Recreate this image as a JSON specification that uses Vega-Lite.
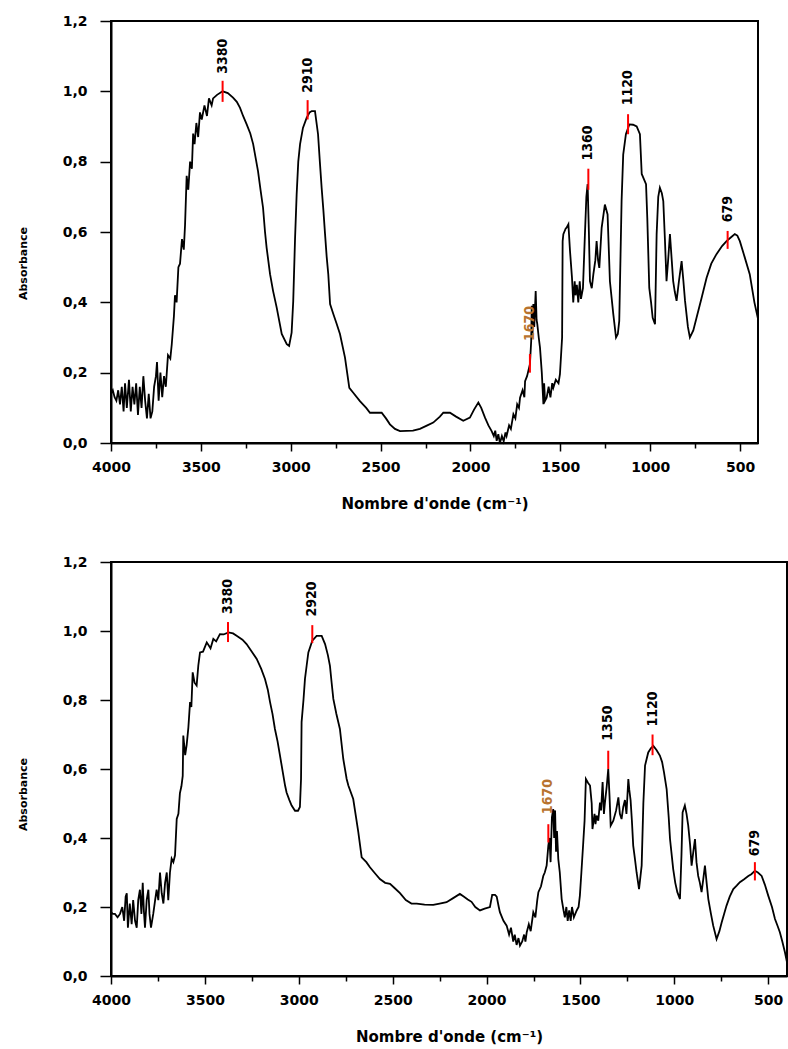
{
"$schema": "https://vega.github.io/schema/vega-lite/v6.json",
"padding": {"left": 16, "top": 13, "right": 0, "bottom": 0},
"background": "white",
"spacing": 42,
"config": {
  "view": {"stroke": "#000", "strokeWidth": 2},
  "axis": {"domainColor": "#000", "domainWidth": 2, "tickColor": "#000", "tickWidth": 1.5, "grid": false,
    "labelFont": "DejaVu Sans", "labelFontWeight": "bold", "labelFontSize": 14, "labelColor": "#000",
    "titleFont": "DejaVu Sans", "titleFontWeight": "bold", "titleColor": "#000",
    "labelOverlap": false, "labelFlush": false, "labelBound": false}
},
"datasets": {
  "specA": [
{"w":4000,"a":0.14},{"w":3990,"a":0.15},{"w":3980,"a":0.13},{"w":3970,"a":0.12},{"w":3960,"a":0.15},{"w":3950,"a":0.11},{"w":3940,"a":0.16},{"w":3930,"a":0.09},{"w":3922,"a":0.17},{"w":3912,"a":0.10},{"w":3900,"a":0.18},{"w":3890,"a":0.09},{"w":3880,"a":0.16},{"w":3870,"a":0.11},{"w":3860,"a":0.17},{"w":3850,"a":0.08},{"w":3840,"a":0.16},{"w":3830,"a":0.10},{"w":3820,"a":0.19},{"w":3810,"a":0.12},{"w":3800,"a":0.07},{"w":3790,"a":0.14},{"w":3780,"a":0.07},{"w":3770,"a":0.09},{"w":3760,"a":0.16},{"w":3750,"a":0.19},{"w":3744,"a":0.23},{"w":3735,"a":0.12},{"w":3725,"a":0.20},{"w":3715,"a":0.13},{"w":3705,"a":0.19},{"w":3695,"a":0.16},{"w":3683,"a":0.25},{"w":3670,"a":0.24},{"w":3662,"a":0.28},{"w":3650,"a":0.36},{"w":3644,"a":0.42},{"w":3635,"a":0.40},{"w":3625,"a":0.50},{"w":3616,"a":0.51},{"w":3605,"a":0.58},{"w":3595,"a":0.55},{"w":3588,"a":0.62},{"w":3579,"a":0.76},{"w":3570,"a":0.72},{"w":3560,"a":0.80},{"w":3550,"a":0.78},{"w":3543,"a":0.88},{"w":3535,"a":0.85},{"w":3525,"a":0.91},{"w":3515,"a":0.87},{"w":3505,"a":0.94},{"w":3495,"a":0.92},{"w":3480,"a":0.96},{"w":3466,"a":0.93},{"w":3455,"a":0.98},{"w":3440,"a":0.96},{"w":3432,"a":0.98},{"w":3410,"a":0.99},{"w":3379,"a":1.0},{"w":3350,"a":0.995},{"w":3321,"a":0.982},{"w":3300,"a":0.97},{"w":3282,"a":0.953},{"w":3265,"a":0.93},{"w":3245,"a":0.906},{"w":3225,"a":0.88},{"w":3209,"a":0.85},{"w":3195,"a":0.81},{"w":3182,"a":0.773},{"w":3168,"a":0.72},{"w":3154,"a":0.669},{"w":3143,"a":0.6},{"w":3134,"a":0.555},{"w":3115,"a":0.48},{"w":3098,"a":0.432},{"w":3078,"a":0.385},{"w":3050,"a":0.31},{"w":3022,"a":0.281},{"w":3009,"a":0.276},{"w":2995,"a":0.314},{"w":2986,"a":0.404},{"w":2976,"a":0.58},{"w":2967,"a":0.707},{"w":2958,"a":0.80},{"w":2948,"a":0.85},{"w":2932,"a":0.896},{"w":2911,"a":0.925},{"w":2895,"a":0.94},{"w":2883,"a":0.944},{"w":2865,"a":0.944},{"w":2848,"a":0.878},{"w":2838,"a":0.80},{"w":2828,"a":0.726},{"w":2818,"a":0.66},{"w":2809,"a":0.594},{"w":2800,"a":0.53},{"w":2791,"a":0.48},{"w":2781,"a":0.395},{"w":2763,"a":0.367},{"w":2745,"a":0.34},{"w":2726,"a":0.31},{"w":2698,"a":0.243},{"w":2674,"a":0.157},{"w":2652,"a":0.143},{"w":2615,"a":0.119},{"w":2580,"a":0.10},{"w":2559,"a":0.086},{"w":2494,"a":0.086},{"w":2470,"a":0.07},{"w":2448,"a":0.053},{"w":2420,"a":0.04},{"w":2392,"a":0.034},{"w":2320,"a":0.035},{"w":2281,"a":0.04},{"w":2240,"a":0.05},{"w":2207,"a":0.058},{"w":2170,"a":0.075},{"w":2151,"a":0.086},{"w":2114,"a":0.086},{"w":2080,"a":0.075},{"w":2040,"a":0.063},{"w":2003,"a":0.072},{"w":1980,"a":0.095},{"w":1956,"a":0.115},{"w":1940,"a":0.10},{"w":1919,"a":0.072},{"w":1900,"a":0.05},{"w":1882,"a":0.034},{"w":1870,"a":0.02},{"w":1862,"a":0.035},{"w":1854,"a":0.006},{"w":1845,"a":0.025},{"w":1836,"a":0.0},{"w":1825,"a":0.02},{"w":1815,"a":0.005},{"w":1805,"a":0.03},{"w":1799,"a":0.02},{"w":1785,"a":0.05},{"w":1775,"a":0.04},{"w":1761,"a":0.082},{"w":1750,"a":0.07},{"w":1740,"a":0.11},{"w":1730,"a":0.10},{"w":1724,"a":0.129},{"w":1710,"a":0.15},{"w":1700,"a":0.13},{"w":1696,"a":0.176},{"w":1685,"a":0.19},{"w":1669,"a":0.224},{"w":1662,"a":0.29},{"w":1659,"a":0.39},{"w":1655,"a":0.30},{"w":1650,"a":0.395},{"w":1645,"a":0.33},{"w":1637,"a":0.432},{"w":1632,"a":0.35},{"w":1628,"a":0.338},{"w":1620,"a":0.30},{"w":1613,"a":0.271},{"w":1603,"a":0.20},{"w":1594,"a":0.11},{"w":1590,"a":0.17},{"w":1585,"a":0.12},{"w":1576,"a":0.129},{"w":1565,"a":0.16},{"w":1555,"a":0.13},{"w":1545,"a":0.17},{"w":1539,"a":0.157},{"w":1525,"a":0.18},{"w":1510,"a":0.17},{"w":1502,"a":0.196},{"w":1490,"a":0.30},{"w":1487,"a":0.574},{"w":1483,"a":0.594},{"w":1470,"a":0.61},{"w":1465,"a":0.612},{"w":1455,"a":0.622},{"w":1446,"a":0.546},{"w":1435,"a":0.47},{"w":1428,"a":0.40},{"w":1420,"a":0.46},{"w":1415,"a":0.42},{"w":1408,"a":0.45},{"w":1400,"a":0.40},{"w":1392,"a":0.46},{"w":1385,"a":0.41},{"w":1374,"a":0.44},{"w":1363,"a":0.594},{"w":1355,"a":0.70},{"w":1348,"a":0.736},{"w":1341,"a":0.60},{"w":1335,"a":0.46},{"w":1325,"a":0.44},{"w":1316,"a":0.48},{"w":1305,"a":0.52},{"w":1298,"a":0.574},{"w":1290,"a":0.52},{"w":1283,"a":0.498},{"w":1270,"a":0.612},{"w":1252,"a":0.678},{"w":1237,"a":0.65},{"w":1224,"a":0.46},{"w":1205,"a":0.366},{"w":1190,"a":0.30},{"w":1180,"a":0.31},{"w":1172,"a":0.347},{"w":1159,"a":0.688},{"w":1150,"a":0.82},{"w":1135,"a":0.878},{"w":1116,"a":0.906},{"w":1095,"a":0.905},{"w":1075,"a":0.90},{"w":1057,"a":0.878},{"w":1047,"a":0.765},{"w":1023,"a":0.736},{"w":1016,"a":0.64},{"w":1005,"a":0.441},{"w":995,"a":0.40},{"w":986,"a":0.356},{"w":973,"a":0.338},{"w":964,"a":0.594},{"w":955,"a":0.70},{"w":946,"a":0.726},{"w":935,"a":0.71},{"w":927,"a":0.688},{"w":918,"a":0.58},{"w":909,"a":0.46},{"w":900,"a":0.52},{"w":890,"a":0.594},{"w":880,"a":0.52},{"w":872,"a":0.46},{"w":863,"a":0.43},{"w":853,"a":0.404},{"w":840,"a":0.46},{"w":825,"a":0.517},{"w":815,"a":0.46},{"w":806,"a":0.404},{"w":790,"a":0.33},{"w":779,"a":0.30},{"w":760,"a":0.32},{"w":742,"a":0.356},{"w":715,"a":0.41},{"w":686,"a":0.47},{"w":660,"a":0.51},{"w":631,"a":0.537},{"w":600,"a":0.56},{"w":575,"a":0.574},{"w":550,"a":0.585},{"w":529,"a":0.594},{"w":515,"a":0.59},{"w":501,"a":0.574},{"w":475,"a":0.53},{"w":446,"a":0.48},{"w":420,"a":0.40},{"w":400,"a":0.353}
  ],
  "peaksA": [
    {"w":3379,"y0":0.97,"y1":1.03,"ly":1.10,"label":"3380"},
    {"w":2906,"y0":0.92,"y1":0.975,"ly":1.046,"label":"2910"},
    {"w":1669,"y0":0.20,"y1":0.253,"ly":0.34,"label":"1670"},
    {"w":1344,"y0":0.72,"y1":0.78,"ly":0.853,"label":"1360"},
    {"w":1123,"y0":0.878,"y1":0.935,"ly":1.01,"label":"1120"},
    {"w":569,"y0":0.552,"y1":0.603,"ly":0.665,"label":"679"}
  ],
  "specB": [
{"w":4000,"a":0.185},{"w":3990,"a":0.18},{"w":3979,"a":0.18},{"w":3965,"a":0.17},{"w":3952,"a":0.18},{"w":3940,"a":0.20},{"w":3930,"a":0.16},{"w":3922,"a":0.23},{"w":3916,"a":0.24},{"w":3910,"a":0.14},{"w":3900,"a":0.21},{"w":3890,"a":0.15},{"w":3882,"a":0.22},{"w":3872,"a":0.16},{"w":3863,"a":0.14},{"w":3855,"a":0.22},{"w":3846,"a":0.25},{"w":3838,"a":0.18},{"w":3831,"a":0.27},{"w":3825,"a":0.19},{"w":3819,"a":0.14},{"w":3810,"a":0.22},{"w":3801,"a":0.25},{"w":3795,"a":0.18},{"w":3787,"a":0.14},{"w":3775,"a":0.18},{"w":3765,"a":0.22},{"w":3757,"a":0.25},{"w":3748,"a":0.22},{"w":3739,"a":0.30},{"w":3730,"a":0.24},{"w":3721,"a":0.21},{"w":3712,"a":0.27},{"w":3703,"a":0.30},{"w":3695,"a":0.22},{"w":3686,"a":0.30},{"w":3677,"a":0.34},{"w":3668,"a":0.33},{"w":3659,"a":0.35},{"w":3650,"a":0.455},{"w":3641,"a":0.47},{"w":3633,"a":0.53},{"w":3625,"a":0.55},{"w":3618,"a":0.58},{"w":3615,"a":0.697},{"w":3605,"a":0.64},{"w":3597,"a":0.67},{"w":3588,"a":0.72},{"w":3579,"a":0.794},{"w":3572,"a":0.78},{"w":3565,"a":0.88},{"w":3555,"a":0.85},{"w":3544,"a":0.842},{"w":3535,"a":0.90},{"w":3526,"a":0.938},{"w":3510,"a":0.94},{"w":3490,"a":0.967},{"w":3470,"a":0.95},{"w":3455,"a":0.977},{"w":3440,"a":0.97},{"w":3420,"a":0.991},{"w":3400,"a":0.99},{"w":3375,"a":0.996},{"w":3350,"a":0.993},{"w":3331,"a":0.986},{"w":3300,"a":0.975},{"w":3278,"a":0.962},{"w":3250,"a":0.94},{"w":3224,"a":0.919},{"w":3200,"a":0.89},{"w":3180,"a":0.861},{"w":3165,"a":0.83},{"w":3153,"a":0.794},{"w":3140,"a":0.76},{"w":3127,"a":0.716},{"w":3113,"a":0.68},{"w":3100,"a":0.639},{"w":3085,"a":0.59},{"w":3073,"a":0.552},{"w":3065,"a":0.532},{"w":3050,"a":0.51},{"w":3038,"a":0.494},{"w":3020,"a":0.479},{"w":3004,"a":0.479},{"w":2994,"a":0.49},{"w":2988,"a":0.571},{"w":2985,"a":0.736},{"w":2975,"a":0.80},{"w":2967,"a":0.861},{"w":2958,"a":0.90},{"w":2949,"a":0.938},{"w":2928,"a":0.972},{"w":2905,"a":0.986},{"w":2878,"a":0.986},{"w":2860,"a":0.962},{"w":2845,"a":0.93},{"w":2834,"a":0.899},{"w":2825,"a":0.85},{"w":2816,"a":0.803},{"w":2800,"a":0.76},{"w":2781,"a":0.716},{"w":2763,"a":0.629},{"w":2745,"a":0.571},{"w":2736,"a":0.552},{"w":2710,"a":0.513},{"w":2695,"a":0.46},{"w":2683,"a":0.417},{"w":2665,"a":0.344},{"w":2640,"a":0.33},{"w":2621,"a":0.315},{"w":2590,"a":0.295},{"w":2568,"a":0.281},{"w":2540,"a":0.27},{"w":2514,"a":0.267},{"w":2490,"a":0.255},{"w":2461,"a":0.24},{"w":2430,"a":0.22},{"w":2400,"a":0.21},{"w":2372,"a":0.21},{"w":2330,"a":0.207},{"w":2284,"a":0.206},{"w":2250,"a":0.21},{"w":2213,"a":0.214},{"w":2180,"a":0.225},{"w":2142,"a":0.238},{"w":2120,"a":0.23},{"w":2100,"a":0.222},{"w":2080,"a":0.215},{"w":2060,"a":0.20},{"w":2035,"a":0.19},{"w":2010,"a":0.195},{"w":1982,"a":0.20},{"w":1970,"a":0.235},{"w":1955,"a":0.235},{"w":1946,"a":0.23},{"w":1935,"a":0.20},{"w":1929,"a":0.185},{"w":1910,"a":0.16},{"w":1893,"a":0.146},{"w":1880,"a":0.12},{"w":1870,"a":0.14},{"w":1858,"a":0.10},{"w":1850,"a":0.12},{"w":1840,"a":0.09},{"w":1830,"a":0.11},{"w":1822,"a":0.088},{"w":1810,"a":0.10},{"w":1800,"a":0.12},{"w":1793,"a":0.10},{"w":1786,"a":0.127},{"w":1775,"a":0.15},{"w":1765,"a":0.13},{"w":1751,"a":0.185},{"w":1740,"a":0.17},{"w":1730,"a":0.22},{"w":1724,"a":0.243},{"w":1710,"a":0.26},{"w":1698,"a":0.29},{"w":1690,"a":0.30},{"w":1680,"a":0.32},{"w":1671,"a":0.378},{"w":1665,"a":0.40},{"w":1659,"a":0.33},{"w":1652,"a":0.46},{"w":1645,"a":0.484},{"w":1640,"a":0.40},{"w":1635,"a":0.48},{"w":1630,"a":0.36},{"w":1625,"a":0.42},{"w":1618,"a":0.339},{"w":1610,"a":0.30},{"w":1600,"a":0.223},{"w":1590,"a":0.19},{"w":1583,"a":0.17},{"w":1575,"a":0.20},{"w":1568,"a":0.16},{"w":1560,"a":0.19},{"w":1552,"a":0.16},{"w":1545,"a":0.20},{"w":1535,"a":0.17},{"w":1520,"a":0.19},{"w":1510,"a":0.20},{"w":1503,"a":0.233},{"w":1495,"a":0.30},{"w":1485,"a":0.387},{"w":1478,"a":0.45},{"w":1471,"a":0.571},{"w":1460,"a":0.56},{"w":1449,"a":0.552},{"w":1440,"a":0.50},{"w":1436,"a":0.426},{"w":1425,"a":0.47},{"w":1420,"a":0.44},{"w":1414,"a":0.465},{"w":1405,"a":0.45},{"w":1396,"a":0.503},{"w":1390,"a":0.48},{"w":1382,"a":0.562},{"w":1375,"a":0.47},{"w":1370,"a":0.50},{"w":1360,"a":0.55},{"w":1352,"a":0.60},{"w":1345,"a":0.52},{"w":1339,"a":0.436},{"w":1325,"a":0.45},{"w":1310,"a":0.48},{"w":1298,"a":0.518},{"w":1290,"a":0.47},{"w":1281,"a":0.455},{"w":1272,"a":0.49},{"w":1263,"a":0.51},{"w":1255,"a":0.47},{"w":1245,"a":0.571},{"w":1240,"a":0.54},{"w":1233,"a":0.51},{"w":1226,"a":0.45},{"w":1219,"a":0.378},{"w":1210,"a":0.34},{"w":1201,"a":0.30},{"w":1188,"a":0.252},{"w":1174,"a":0.32},{"w":1165,"a":0.50},{"w":1156,"a":0.61},{"w":1139,"a":0.648},{"w":1125,"a":0.66},{"w":1112,"a":0.667},{"w":1095,"a":0.655},{"w":1077,"a":0.639},{"w":1065,"a":0.62},{"w":1055,"a":0.59},{"w":1041,"a":0.542},{"w":1030,"a":0.46},{"w":1023,"a":0.397},{"w":1006,"a":0.31},{"w":995,"a":0.27},{"w":984,"a":0.243},{"w":970,"a":0.223},{"w":962,"a":0.35},{"w":956,"a":0.474},{"w":944,"a":0.494},{"w":935,"a":0.47},{"w":926,"a":0.436},{"w":916,"a":0.38},{"w":908,"a":0.32},{"w":899,"a":0.36},{"w":890,"a":0.397},{"w":882,"a":0.33},{"w":873,"a":0.29},{"w":864,"a":0.27},{"w":855,"a":0.243},{"w":846,"a":0.28},{"w":837,"a":0.32},{"w":828,"a":0.27},{"w":819,"a":0.223},{"w":805,"a":0.18},{"w":793,"a":0.146},{"w":775,"a":0.107},{"w":760,"a":0.13},{"w":748,"a":0.155},{"w":735,"a":0.18},{"w":722,"a":0.204},{"w":705,"a":0.23},{"w":686,"a":0.252},{"w":668,"a":0.262},{"w":651,"a":0.272},{"w":630,"a":0.28},{"w":606,"a":0.29},{"w":590,"a":0.295},{"w":571,"a":0.305},{"w":555,"a":0.30},{"w":535,"a":0.29},{"w":518,"a":0.265},{"w":500,"a":0.233},{"w":480,"a":0.20},{"w":464,"a":0.165},{"w":450,"a":0.145},{"w":438,"a":0.127},{"w":425,"a":0.10},{"w":411,"a":0.069},{"w":400,"a":0.04}
  ],
  "peaksB": [
    {"w":3377,"y0":0.968,"y1":1.026,"ly":1.10,"label":"3380"},
    {"w":2928,"y0":0.965,"y1":1.017,"ly":1.093,"label":"2920"},
    {"w":1671,"y0":0.387,"y1":0.44,"ly":0.52,"label":"1670"},
    {"w":1352,"y0":0.60,"y1":0.653,"ly":0.733,"label":"1350"},
    {"w":1116,"y0":0.64,"y1":0.70,"ly":0.774,"label":"1120"},
    {"w":571,"y0":0.277,"y1":0.33,"ly":0.385,"label":"679"}
  ]
},
"vconcat": [
  {
    "width": 647, "height": 422,
    "encoding": {
      "x": {"field": "w", "type": "quantitative", "scale": {"domain": [400, 4000], "reverse": true, "nice": false, "zero": false},
        "axis": {"title": "Nombre d'onde (cm⁻¹)", "titleFontSize": 15, "titlePadding": 22, "labelPadding": 9,
          "values": [4000,3750,3500,3250,3000,2750,2500,2250,2000,1750,1500,1250,1000,750,500],
          "labelExpr": "datum.value % 500 === 0 ? '' + datum.value : ''",
          "tickSize": {"condition": {"test": "datum.value % 500 === 0", "value": 8}, "value": 5}}}
    },
    "layer": [
      {"data": {"name": "specA"}, "mark": {"type": "line", "color": "#000", "strokeWidth": 1.8, "interpolate": "linear"},
        "encoding": {"y": {"field": "a", "type": "quantitative", "scale": {"domain": [0, 1.2], "nice": false},
          "axis": {"title": "Absorbance", "titleFontSize": 11, "titlePadding": 34, "labelPadding": 13, "titleY": 242,
            "values": [0,0.1,0.2,0.3,0.4,0.5,0.6,0.7,0.8,0.9,1.0,1.1,1.2],
            "labelExpr": "round(datum.value*10) % 2 === 0 ? replace(format(datum.value, '.1f'), '.', ',') : ''",
            "tickSize": {"condition": {"test": "round(datum.value*10) % 2 === 0", "value": 11}, "value": 6}}}}},
      {"data": {"name": "peaksA"}, "mark": {"type": "rule", "color": "#ff0000", "strokeWidth": 2},
        "encoding": {"y": {"field": "y0", "type": "quantitative"}, "y2": {"field": "y1"}}},
      {"data": {"name": "peaksA"}, "mark": {"type": "text", "angle": 270, "align": "center", "baseline": "middle", "font": "DejaVu Sans Condensed, Liberation Sans Narrow, DejaVu Sans", "fontWeight": "bold", "fontSize": 14},
        "encoding": {"y": {"field": "ly", "type": "quantitative"}, "text": {"field": "label"},
          "color": {"condition": {"test": "datum.label === '1670'", "value": "#b8732e"}, "value": "#000"}}}
    ]
  },
  {
    "width": 676, "height": 414,
    "encoding": {
      "x": {"field": "w", "type": "quantitative", "scale": {"domain": [400, 4000], "reverse": true, "nice": false, "zero": false},
        "axis": {"title": "Nombre d'onde (cm⁻¹)", "titleFontSize": 15, "titlePadding": 22, "labelPadding": 9,
          "values": [4000,3750,3500,3250,3000,2750,2500,2250,2000,1750,1500,1250,1000,750,500],
          "labelExpr": "datum.value % 500 === 0 ? '' + datum.value : ''",
          "tickSize": {"condition": {"test": "datum.value % 500 === 0", "value": 8}, "value": 5}}}
    },
    "layer": [
      {"data": {"name": "specB"}, "mark": {"type": "line", "color": "#000", "strokeWidth": 1.8, "interpolate": "linear"},
        "encoding": {"y": {"field": "a", "type": "quantitative", "scale": {"domain": [0, 1.2], "nice": false},
          "axis": {"title": "Absorbance", "titleFontSize": 11, "titlePadding": 34, "labelPadding": 13, "titleY": 232,
            "values": [0,0.1,0.2,0.3,0.4,0.5,0.6,0.7,0.8,0.9,1.0,1.1,1.2],
            "labelExpr": "round(datum.value*10) % 2 === 0 ? replace(format(datum.value, '.1f'), '.', ',') : ''",
            "tickSize": {"condition": {"test": "round(datum.value*10) % 2 === 0", "value": 11}, "value": 6}}}}},
      {"data": {"name": "peaksB"}, "mark": {"type": "rule", "color": "#ff0000", "strokeWidth": 2},
        "encoding": {"y": {"field": "y0", "type": "quantitative"}, "y2": {"field": "y1"}}},
      {"data": {"name": "peaksB"}, "mark": {"type": "text", "angle": 270, "align": "center", "baseline": "middle", "font": "DejaVu Sans Condensed, Liberation Sans Narrow, DejaVu Sans", "fontWeight": "bold", "fontSize": 14},
        "encoding": {"y": {"field": "ly", "type": "quantitative"}, "text": {"field": "label"},
          "color": {"condition": {"test": "datum.label === '1670'", "value": "#b8732e"}, "value": "#000"}}}
    ]
  }
]
}
